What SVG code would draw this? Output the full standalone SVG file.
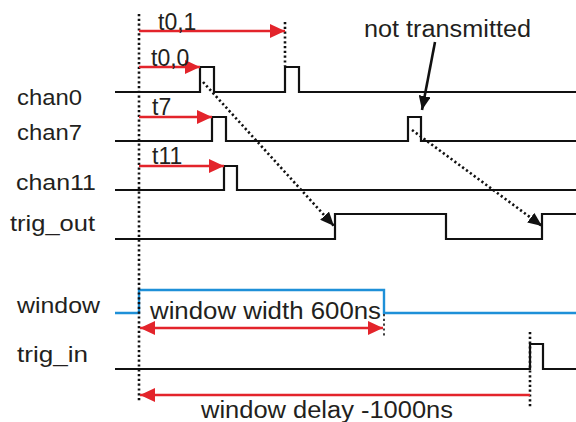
<svg xmlns="http://www.w3.org/2000/svg" width="576" height="422" viewBox="0 0 576 422">
<style>
  text { font-family: "Liberation Sans", Arial, sans-serif; fill: #231f20; }
  .lbl { font-size: 22px; }
  .ann { font-size: 23px; }
  .sig { fill: none; stroke: #111; stroke-width: 2.2; stroke-linejoin: miter; }
  .win { fill: none; stroke: #1e90d8; stroke-width: 2.4; }
  .dot { fill: none; stroke: #111; stroke-width: 2.6; stroke-dasharray: 2.2 2.6; }
  .red { fill: none; stroke: #e3242b; stroke-width: 2.4; }
</style>
<defs>
  <marker id="rh" viewBox="0 0 15 14" refX="15" refY="7" markerWidth="15" markerHeight="14" markerUnits="userSpaceOnUse" orient="auto-start-reverse">
    <path d="M0,0 L15,7 L0,14 Z" fill="#e3242b"/>
  </marker>
  <marker id="bh" viewBox="0 0 14 12" refX="14" refY="6" markerWidth="14" markerHeight="12" markerUnits="userSpaceOnUse" orient="auto">
    <path d="M0,0 L14,6 L0,12 Z" fill="#111"/>
  </marker>
</defs>
<rect width="576" height="422" fill="#fff"/>

<g id="labels">
  <text class="lbl" x="17" y="105" textLength="65" lengthAdjust="spacingAndGlyphs">chan0</text>
  <text class="lbl" x="17" y="140" textLength="65" lengthAdjust="spacingAndGlyphs">chan7</text>
  <text class="lbl" x="16" y="190" textLength="80" lengthAdjust="spacingAndGlyphs">chan11</text>
  <text class="lbl" x="10" y="231" textLength="85" lengthAdjust="spacingAndGlyphs">trig_out</text>
  <text class="lbl" x="17" y="313" textLength="83" lengthAdjust="spacingAndGlyphs">window</text>
  <text class="lbl" x="17" y="362" textLength="71" lengthAdjust="spacingAndGlyphs">trig_in</text>
</g>

<g id="chan0">
  <path class="sig" d="M115,92 H200 V67 H214 V92 H285 V67 H299 V92 H576"/>
</g>
<g id="chan7">
  <path class="sig" d="M115,141 H212 V117 H226 V141 H408 V117 H421 V141 H576"/>
</g>
<g id="chan11">
  <path class="sig" d="M115,190 H224 V166 H237 V190 H576"/>
</g>
<g id="trig_out">
  <path class="sig" d="M115,239 H335 V214 H446 V239 H542 V214 H576"/>
</g>
<g id="window">
  <path class="win" d="M115,313 H139 V290 H384 V313 H576"/>
</g>
<g id="trig_in">
  <path class="sig" d="M115,369 H530 V344 H543 V369 H576"/>
</g>

<g id="connectors">
  <line class="dot" x1="139" y1="14" x2="139" y2="402"/>
  <line class="dot" x1="285" y1="22" x2="285" y2="66"/>
  <line class="dot" x1="384" y1="314" x2="384" y2="338" style="stroke-width:1.6"/>
  <line class="dot" x1="530" y1="332" x2="530" y2="408"/>

  <line class="red" x1="139" y1="31" x2="285" y2="31" marker-end="url(#rh)"/>
  <line class="red" x1="139" y1="67" x2="200" y2="67" marker-end="url(#rh)"/>
  <line class="red" x1="139" y1="117" x2="212" y2="117" marker-end="url(#rh)"/>
  <line class="red" x1="139" y1="166" x2="224" y2="166" marker-end="url(#rh)"/>
  <line class="red" x1="140" y1="328" x2="383" y2="328" marker-start="url(#rh)" marker-end="url(#rh)"/>
  <line class="red" x1="140" y1="395" x2="530" y2="395" marker-start="url(#rh)"/>

  <line class="dot" x1="203" y1="82" x2="334" y2="226" marker-end="url(#bh)"/>
  <line class="dot" x1="412" y1="130" x2="542" y2="226" marker-end="url(#bh)"/>
  <line x1="435" y1="42" x2="422" y2="110" stroke="#111" stroke-width="2.6" marker-end="url(#bh)"/>
</g>

<g id="annotations">
  <text class="ann" x="158" y="30">t0,1</text>
  <text class="ann" x="151" y="66">t0,0</text>
  <text class="ann" x="152" y="115">t7</text>
  <text class="ann" x="152" y="164">t11</text>
  <text class="ann" x="364" y="37" textLength="167" lengthAdjust="spacingAndGlyphs">not transmitted</text>
  <text class="ann" x="150" y="319" textLength="231" lengthAdjust="spacingAndGlyphs">window width 600ns</text>
  <text class="ann" x="201" y="418" textLength="252" lengthAdjust="spacingAndGlyphs">window delay -1000ns</text>
</g>
</svg>
